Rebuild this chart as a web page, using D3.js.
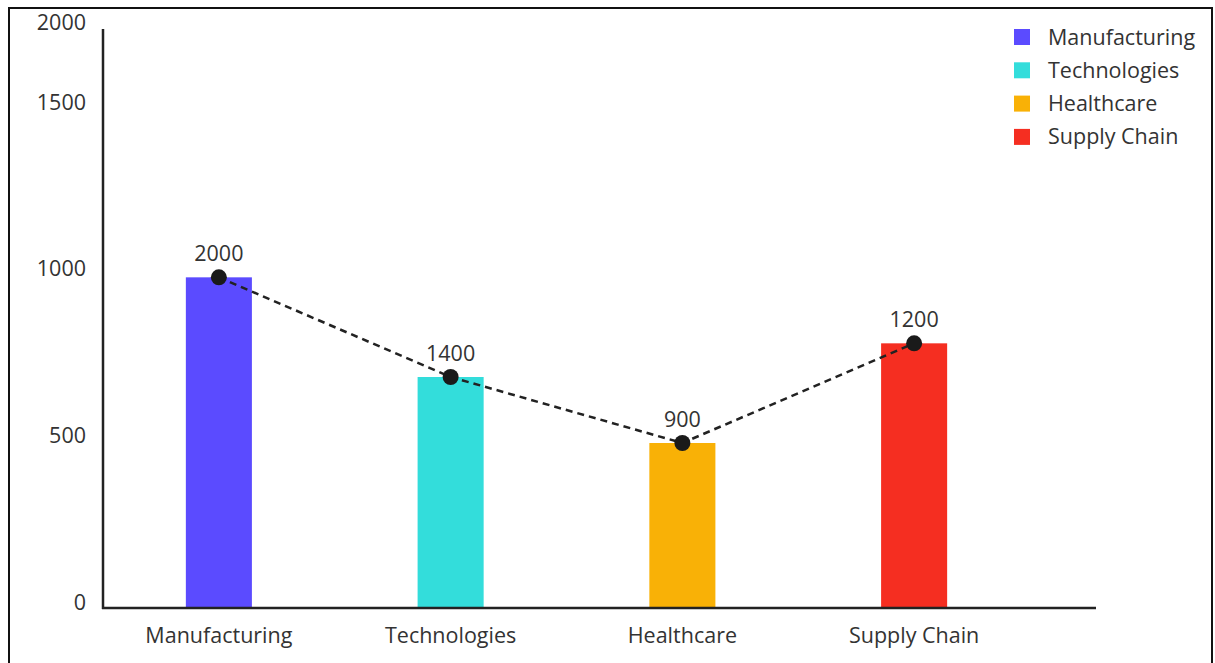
<!DOCTYPE html>
<html><head><meta charset="utf-8">
<script src="https://cdn.jsdelivr.net/npm/d3@7"></script>
<style>body{margin:0;background:#fff;}svg{display:block;}</style>
</head><body>
<svg id="chart" width="1215" height="663"></svg>
<script>
const categories = ["Manufacturing","Technologies","Healthcare","Supply Chain"];
const labelValues = [2000,1400,900,1200];
const barValues = [992,693,495,794];
const colors = ["#5B4BFF","#33DDDB","#F9B106","#F52E21"];
const yTicks = [0,500,1000,1500,2000];

const svg = d3.select("#chart");
const font = "'Open Sans', 'Noto Sans', sans-serif";
const fs = 21.5;
const txt = "#333";

// frame
svg.append("rect").attr("x",9).attr("y",8).attr("width",1203).attr("height",670)
  .attr("fill","#fff").attr("stroke","#111").attr("stroke-width",2);

const x0 = 103, x1 = 1030, axisEnd = 1096, yBase = 608, yTop = 29;
const x = d3.scaleBand().domain(categories).range([x0,x1]).paddingInner(0.715).paddingOuter(0.3575);
const y = d3.scaleLinear().domain([0,1500]).range([yBase, yBase-500]);

// bars
svg.selectAll("rect.bar").data(categories).enter().append("rect").attr("class","bar")
  .attr("x",d=>x(d)).attr("width",x.bandwidth())
  .attr("y",(d,i)=>y(barValues[i])).attr("height",(d,i)=>yBase-y(barValues[i]))
  .attr("fill",(d,i)=>colors[i]);

// axes
svg.append("line").attr("x1",x0).attr("x2",x0).attr("y1",yTop).attr("y2",yBase+1)
  .attr("stroke","#222").attr("stroke-width",2.5);
svg.append("line").attr("x1",x0-1).attr("x2",axisEnd).attr("y1",yBase).attr("y2",yBase)
  .attr("stroke","#222").attr("stroke-width",2.5);

// y tick labels
svg.selectAll("text.ytick").data(yTicks).enter().append("text").attr("class","ytick")
  .attr("x",86).attr("y",d=>Math.max(y(d),yTop-1)-6).attr("dy","0.35em")
  .attr("text-anchor","end").attr("font-family",font).attr("font-size",fs).attr("fill",txt)
  .text(d=>d);

// x labels
svg.selectAll("text.xlab").data(categories).enter().append("text").attr("class","xlab")
  .attr("x",d=>x(d)+x.bandwidth()/2).attr("y",635).attr("dy","0.35em")
  .attr("text-anchor","middle").attr("font-family",font).attr("font-size",fs).attr("fill",txt)
  .text(d=>d);

// line
const pts = categories.map((c,i)=>[x(c)+x.bandwidth()/2, y(barValues[i])]);
svg.append("path").attr("d",d3.line()(pts)).attr("fill","none")
  .attr("stroke","#222").attr("stroke-width",2.5).attr("stroke-dasharray","7,5");
svg.selectAll("circle.pt").data(pts).enter().append("circle").attr("class","pt")
  .attr("cx",d=>d[0]).attr("cy",d=>d[1]).attr("r",8).attr("fill","#1a1a1a");

// value labels
svg.selectAll("text.val").data(categories).enter().append("text").attr("class","val")
  .attr("x",d=>x(d)+x.bandwidth()/2).attr("y",(d,i)=>y(barValues[i])-24).attr("dy","0.35em")
  .attr("text-anchor","middle").attr("font-family",font).attr("font-size",fs).attr("fill",txt)
  .text((d,i)=>labelValues[i]);

// legend
const lg = svg.append("g");
categories.forEach((c,i)=>{
  const cy = 37 + i*33.3;
  lg.append("rect").attr("x",1014).attr("y",cy-8).attr("width",16).attr("height",16).attr("fill",colors[i]);
  lg.append("text").attr("x",1048).attr("y",cy).attr("dy","0.35em")
    .attr("font-family",font).attr("font-size",fs).attr("fill",txt).text(c);
});
</script>
</body></html>
